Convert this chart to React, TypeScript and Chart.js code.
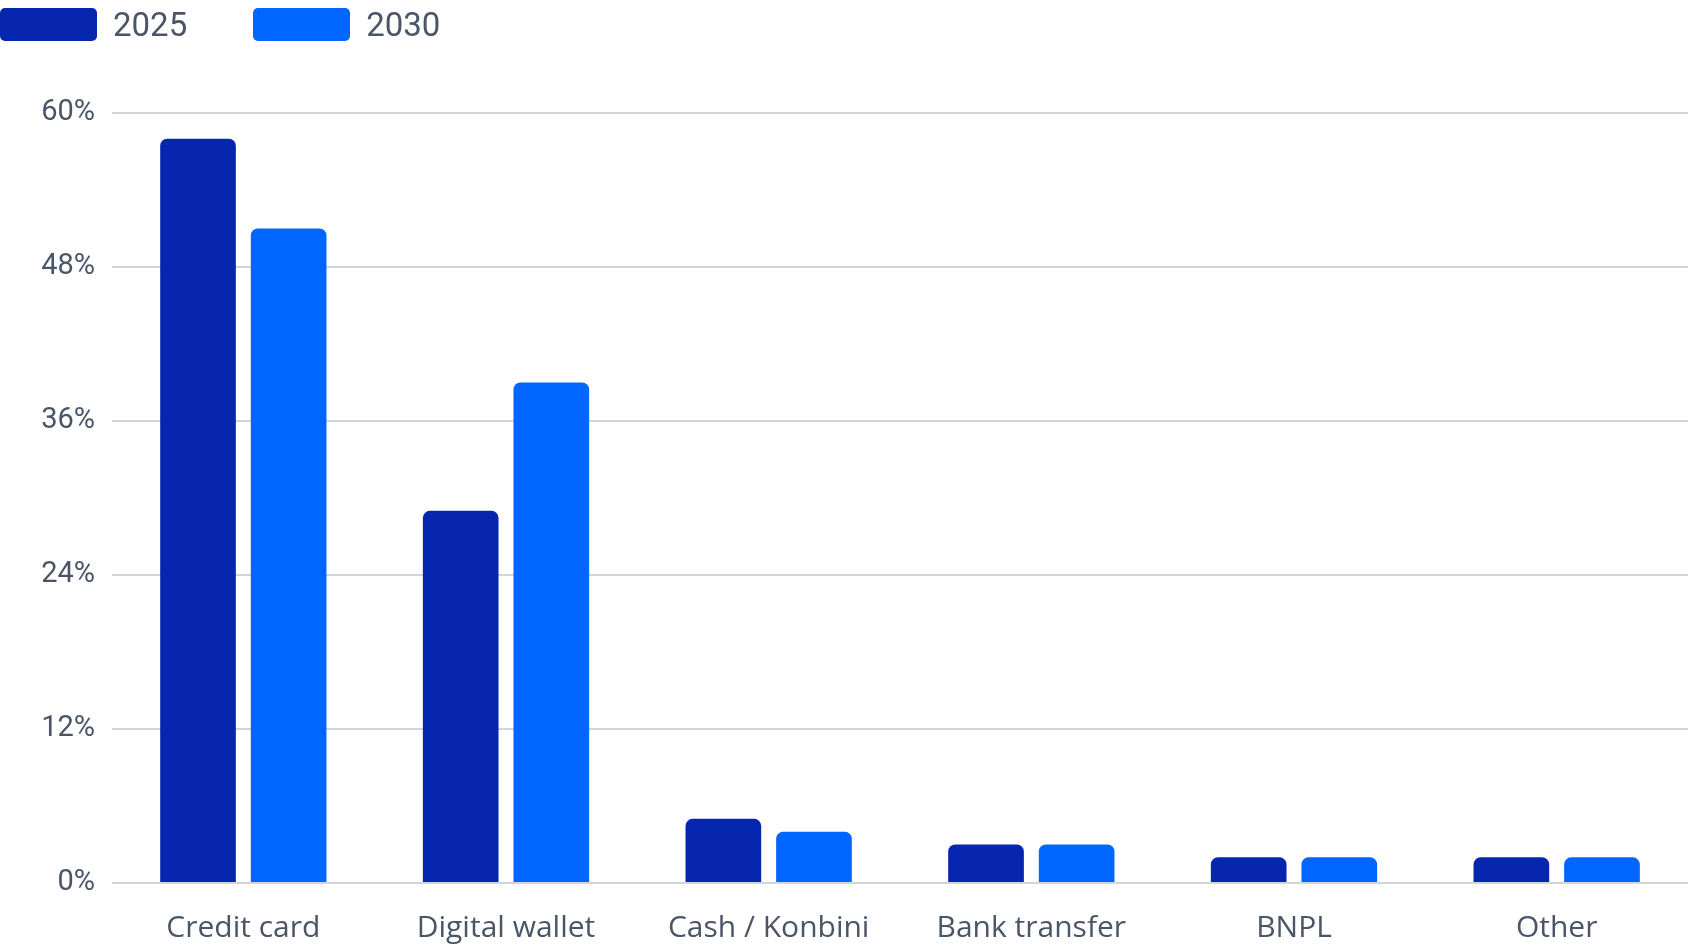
import { useEffect, useRef } from 'react';
import { Chart, registerables } from 'chart.js';

Chart.register(...registerables);

const categories = ['Credit card', 'Digital wallet', 'Cash / Konbini', 'Bank transfer', 'BNPL', 'Other'];
const share2025 = [58, 29, 5, 3, 2, 2];
const share2030 = [51, 39, 4, 3, 2, 2];
const seriesNames = ['2025', '2030'];
const seriesColors = ['#0726B0', '#0066FF'];
const yTicks = [0, 12, 24, 36, 48, 60];

const TEXT = '#4A5568';
const GRID = '#D3D5DD';

export default function App() {
  const chartRef = useRef<HTMLCanvasElement>(null);
  const chartInstance = useRef<Chart | null>(null);

  useEffect(() => {
    document.body.style.margin = '0';
    if (!chartRef.current) return;
    if (chartInstance.current) chartInstance.current.destroy();
    const ctx = chartRef.current.getContext('2d');
    if (!ctx) return;

    chartInstance.current = new Chart(ctx, {
      type: 'bar',
      data: {
        labels: categories,
        datasets: [share2025, share2030].map((d, i) => ({
          label: seriesNames[i],
          data: d,
          backgroundColor: seriesColors[i],
          borderRadius: 7,
          borderSkipped: 'start' as const,
          categoryPercentage: 0.69,
          barPercentage: 0.835,
        })),
      },
      options: {
        animation: false,
        responsive: false,
        maintainAspectRatio: false,
        layout: { padding: { top: 113, right: 0, bottom: 0, left: 0 } },
        plugins: {
          legend: { display: false },
          tooltip: { enabled: false },
        },
        scales: {
          x: {
            grid: { display: false },
            border: { display: false },
            ticks: {
              color: TEXT,
              font: { family: 'Open Sans', size: 30 },
              padding: 19,
              maxRotation: 0,
            },
            afterFit: (scale: any) => { scale.height = 65; },
          },
          y: {
            min: 0,
            max: 60,
            afterBuildTicks: (scale: any) => { scale.ticks = yTicks.map((v) => ({ value: v })); },
            grid: { color: GRID, lineWidth: 2, drawTicks: false },
            border: { display: false },
            ticks: {
              color: TEXT,
              font: { family: 'Roboto', size: 29 },
              padding: 17,
              callback: (v: any) => `${v}%`,
            },
            afterFit: (scale: any) => { scale.width = 112; },
          },
        },
      },
    });

    return () => {
      if (chartInstance.current) {
        chartInstance.current.destroy();
        chartInstance.current = null;
      }
    };
  }, []);

  return (
    <div style={{ position: 'relative', width: 1688, height: 948, background: '#fff' }}>
      <div
        style={{
          position: 'absolute',
          top: 8,
          left: 0,
          display: 'flex',
          alignItems: 'center',
          fontFamily: 'Roboto',
          fontSize: 33,
          color: TEXT,
        }}
      >
        {seriesNames.map((name, i) => (
          <div key={name} style={{ display: 'flex', alignItems: 'center', marginRight: 66 }}>
            <span
              style={{
                display: 'inline-block',
                width: 97,
                height: 33,
                borderRadius: 5,
                background: seriesColors[i],
                marginRight: 16,
              }}
            />
            <span style={{ lineHeight: '33px' }}>{name}</span>
          </div>
        ))}
      </div>
      <canvas ref={chartRef} width={1688} height={948} style={{ display: 'block' }} />
    </div>
  );
}
